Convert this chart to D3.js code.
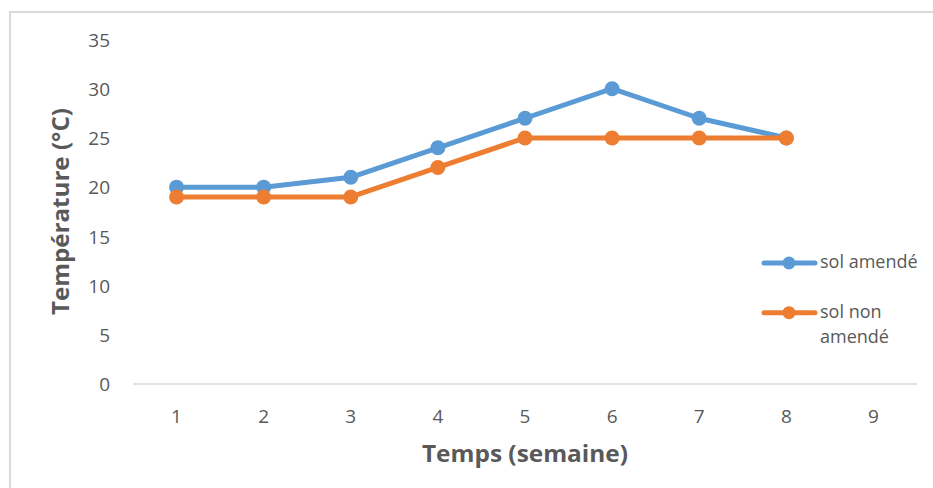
<!DOCTYPE html>
<html><head><meta charset="utf-8">
<script src="https://cdn.jsdelivr.net/npm/d3@7"></script>
<style>
body{margin:0;background:#fff;}
svg{display:block;font-family:"Open Sans","Liberation Sans",sans-serif;}
</style></head><body>
<svg id="c" width="933" height="488"></svg>
<script>
const categories = ["1","2","3","4","5","6","7","8","9"];
const solAmende = [20,20,21,24,27,30,27,25];
const solNonAmende = [19,19,19,22,25,25,25,25];
const yTicks = [0,5,10,15,20,25,30,35];
const seriesNames = ["sol amendé","sol non amendé"];
const colors = ["#5B9BD5","#ED7D31"];

const svg = d3.select("#c");
svg.append("rect").attr("x",10).attr("y",12).attr("width",940).attr("height",500)
  .attr("fill","#fff").attr("stroke","#d9d9d9").attr("stroke-width",2);

const x = d3.scaleBand().domain(categories).range([133,917]);
const y = d3.scaleLinear().domain([0,35]).range([384,39.5]);

svg.append("line").attr("x1",133).attr("x2",917).attr("y1",y(0)).attr("y2",y(0))
  .attr("stroke","#d9d9d9").attr("stroke-width",1.5);

const yAxis = d3.axisLeft(y).tickValues(yTicks).tickSize(0).tickPadding(0);
const gy = svg.append("g").attr("transform","translate(110,0)").call(yAxis)
  .attr("font-family",null).attr("font-size",null);
gy.select(".domain").remove();
gy.selectAll("text").attr("fill","#595959").attr("font-size","19px").attr("dy","0.357em");

const xAxis = d3.axisBottom(x).tickSize(0).tickPadding(0);
const gx = svg.append("g").attr("transform","translate(0,416.5)").call(xAxis)
  .attr("font-family",null).attr("font-size",null);
gx.select(".domain").remove();
gx.selectAll("text").attr("fill","#595959").attr("font-size","19px").attr("dy","0.357em");

const line = d3.line().x((d,i)=>x(categories[i])+x.bandwidth()/2).y(d=>y(d));
[solAmende, solNonAmende].forEach((s,k)=>{
  svg.append("path").datum(s).attr("d",line).attr("fill","none")
    .attr("stroke",colors[k]).attr("stroke-width",5).attr("stroke-linejoin","round");
  svg.selectAll(null).data(s).enter().append("circle")
    .attr("cx",(d,i)=>x(categories[i])+x.bandwidth()/2).attr("cy",d=>y(d))
    .attr("r",7.5).attr("fill",colors[k]);
});

svg.append("text").attr("transform","translate(61,211.5) rotate(-90)").attr("text-anchor","middle")
  .attr("dy","0.357em").attr("font-weight","bold").attr("font-size","23px").attr("fill","#595959")
  .attr("textLength",207).attr("lengthAdjust","spacingAndGlyphs").text("Température (°C)");
svg.append("text").attr("x",525).attr("y",453.5).attr("text-anchor","middle").attr("dy","0.357em")
  .attr("font-weight","bold").attr("font-size","23px").attr("fill","#595959")
  .attr("textLength",206).attr("lengthAdjust","spacingAndGlyphs").text("Temps (semaine)");

const leg = [{y:263, lines:["sol amendé"]},{y:312.7, lines:["sol non","amendé"]}];
leg.forEach((l,k)=>{
  svg.append("line").attr("x1",764).attr("x2",815).attr("y1",l.y).attr("y2",l.y)
    .attr("stroke",colors[k]).attr("stroke-width",5).attr("stroke-linecap","round");
  svg.append("circle").attr("cx",789).attr("cy",l.y).attr("r",6.5).attr("fill",colors[k]);
  l.lines.forEach((t,j)=>{
    svg.append("text").attr("x",820).attr("y",l.y+j*24.5).attr("dy","0.3em")
      .attr("font-size","18px").attr("fill","#595959").text(t);
  });
});
</script></body></html>
